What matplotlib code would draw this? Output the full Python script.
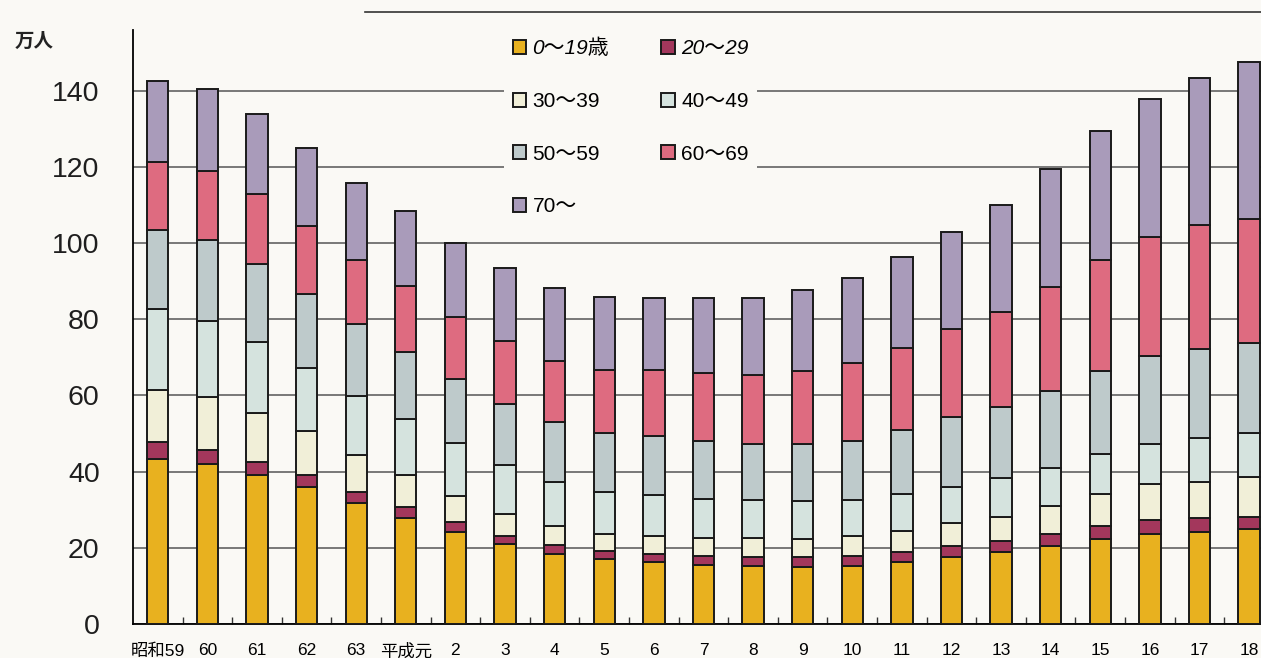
import numpy as np
import matplotlib.pyplot as plt
from matplotlib.lines import Line2D
from matplotlib.font_manager import FontProperties

plt.rcParams['font.family'] = ['Liberation Sans', 'Noto Sans CJK JP', 'DejaVu Sans']

# years (x categories)
years = ['昭和59', '60', '61', '62', '63', '平成元', '2', '3', '4', '5', '6', '7',
         '8', '9', '10', '11', '12', '13', '14', '15', '16', '17', '18']
age_labels = ['0〜19歳', '20〜29', '30〜39', '40〜49', '50〜59', '60〜69', '70〜']

# values in 万人
age_0_19 = [43.3, 42.0, 39.1, 35.9, 31.7, 27.8, 24.2, 21.0, 18.4, 17.1, 16.4, 15.5,
            15.3, 14.9, 15.2, 16.2, 17.6, 18.9, 20.4, 22.2, 23.6, 24.2, 24.9]
age_20s = [4.5, 3.7, 3.5, 3.1, 2.9, 2.9, 2.5, 2.2, 2.3, 2.0, 2.1, 2.4,
           2.4, 2.8, 2.7, 2.7, 3.0, 2.8, 3.3, 3.5, 3.8, 3.5, 3.3]
age_30s = [13.5, 13.9, 12.8, 11.6, 9.7, 8.3, 6.8, 5.8, 4.9, 4.5, 4.7, 4.8,
           4.8, 4.6, 5.2, 5.5, 5.8, 6.5, 7.4, 8.5, 9.3, 9.7, 10.3]
age_40s = [21.3, 19.9, 18.5, 16.7, 15.5, 14.8, 13.9, 12.6, 11.6, 11.1, 10.7, 10.1,
           10.1, 10.1, 9.5, 9.7, 9.5, 10.0, 9.9, 10.3, 10.6, 11.4, 11.5]
age_50s = [20.8, 21.3, 20.6, 19.4, 18.9, 17.6, 16.9, 16.1, 15.7, 15.4, 15.4, 15.3,
           14.6, 14.8, 15.4, 16.7, 18.4, 18.8, 20.2, 21.9, 23.1, 23.3, 23.8]
age_60s = [17.9, 18.2, 18.4, 17.7, 16.9, 17.3, 16.2, 16.7, 16.2, 16.6, 17.4, 17.7,
           18.2, 19.1, 20.6, 21.6, 23.0, 24.9, 27.3, 29.1, 31.1, 32.6, 32.4]
age_70up = [21.3, 21.3, 21.0, 20.4, 20.1, 19.6, 19.4, 19.0, 19.0, 19.0, 18.8, 19.7,
            20.1, 21.4, 22.1, 23.8, 25.6, 28.0, 31.0, 33.8, 36.2, 38.7, 41.2]

series = [age_0_19, age_20s, age_30s, age_40s, age_50s, age_60s, age_70up]
colors = ['#E8B11F', '#A3375C', '#F1EFD8', '#D5E3DE', '#BECACB', '#DE6B80', '#A99BBA']

bg = '#FAF9F5'
fig = plt.figure(figsize=(12.61, 6.58), dpi=100, facecolor=bg)
ax = fig.add_axes([133 / 1261, 34 / 658, 1 - 133 / 1261, (624 - 30) / 658])
ax.set_facecolor(bg)

x = np.arange(len(years))
bottom = np.zeros(len(years))
handles = []
for vals, c, lab in zip(series, colors, age_labels):
    b = ax.bar(x, vals, 0.43, bottom=bottom, color=c, edgecolor='#1a1a1a',
               linewidth=1.4, label=lab, zorder=3)
    handles.append(b)
    bottom += np.array(vals)

ax.set_xlim(-0.5, 22.24)
ax.set_ylim(0, 155.9)
ax.set_yticks(range(0, 141, 20))
ax.tick_params(axis='y', length=0, pad=24, labelsize=20.5, labelcolor='#1e1e1e')
ax.set_xticks(x)
ax.set_xticklabels(years, fontsize=12.5)
ax.tick_params(axis='x', length=0, pad=14)
ax.set_xticks(x[:-1] + 0.5, minor=True)
ax.tick_params(axis='x', which='minor', direction='in', length=5, width=1, color='#333333')

ax.yaxis.grid(True, color='#555555', linewidth=1.1, zorder=0)
ax.set_axisbelow(True)
for s in ['top', 'right']:
    ax.spines[s].set_visible(False)
ax.spines['left'].set_linewidth(1.3)
ax.spines['bottom'].set_linewidth(1.3)

fig.text(15 / 1261, 1 - 41 / 658, '万人', fontsize=14, va='center',
         family=['Noto Sans CJK JP'], weight='bold', color='#222222')
fig.add_artist(Line2D([365 / 1261, 1], [1 - 12 / 658, 1 - 12 / 658],
                      color='#333333', linewidth=1.2))

# legend: row-wise order in two columns
order = [0, 2, 4, 6, 1, 3, 5]
leg = ax.legend([handles[i] for i in order], [age_labels[i] for i in order],
                ncol=2, loc='upper left', bbox_to_anchor=(494 / 1261, 1 - 20 / 658),
                bbox_transform=fig.transFigure,
                prop=FontProperties(family=['Liberation Sans', 'Noto Sans CJK JP'], size=15),
                frameon=True, facecolor=bg, edgecolor='none', framealpha=1,
                handlelength=0.65, handleheight=0.65, handletextpad=0.3,
                labelspacing=1.62, columnspacing=2.5, borderpad=0.4)
leg.set_zorder(5)
for t in leg.get_texts():
    if t.get_text() in ('0〜19歳', '20〜29'):
        t.set_style('italic')

fig.savefig('out.png', dpi=100, facecolor=bg)
